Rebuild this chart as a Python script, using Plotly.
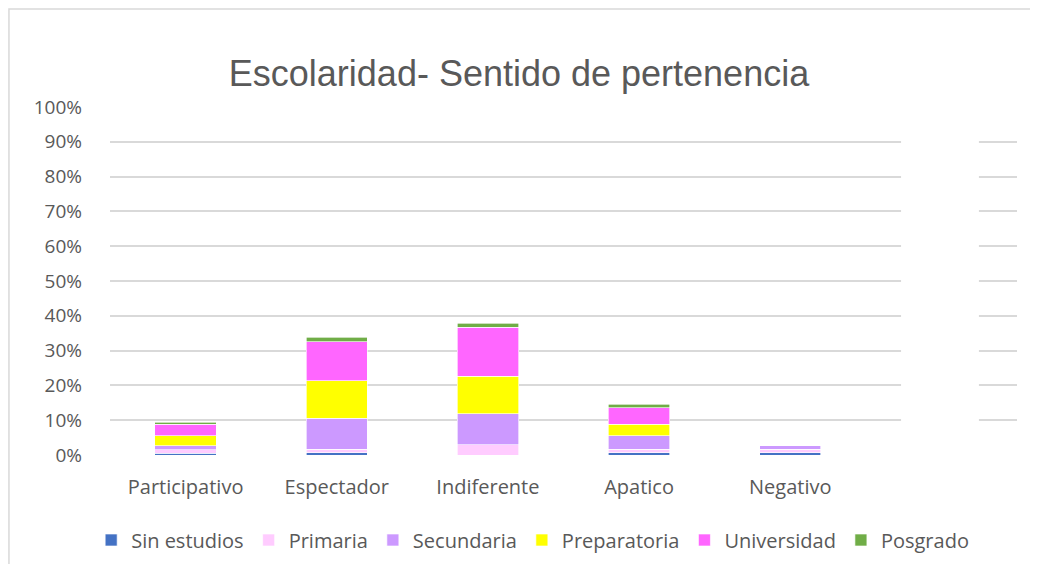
import plotly.graph_objects as go

categories = ["Participativo", "Espectador", "Indiferente", "Apatico", "Negativo"]
sin_estudios = [0.005, 0.006, 0.000, 0.006, 0.006]
primaria = [0.010, 0.010, 0.029, 0.010, 0.011]
secundaria = [0.012, 0.090, 0.089, 0.039, 0.011]
preparatoria = [0.028, 0.108, 0.109, 0.033, 0.0]
universidad = [0.033, 0.112, 0.140, 0.048, 0.0]
posgrado = [0.006, 0.012, 0.011, 0.010, 0.0]

series = [
    ("Sin estudios", sin_estudios, "#4472C4"),
    ("Primaria", primaria, "#FFCCFF"),
    ("Secundaria", secundaria, "#CC99FF"),
    ("Preparatoria", preparatoria, "#FFFF00"),
    ("Universidad", universidad, "#FF66FF"),
    ("Posgrado", posgrado, "#70AD47"),
]

fig = go.Figure()
for name, vals, col in series:
    fig.add_trace(go.Bar(
        name=name, x=categories, y=vals, width=0.405,
        marker=dict(color=col, line=dict(color="rgba(255,255,255,0.8)", width=0.8)),
    ))

grey = "#595959"
W, H = 1022, 556
fig.update_layout(
    barmode="stack",
    width=W, height=H,
    margin=dict(l=102, r=13, t=99, b=109, autoexpand=False),
    paper_bgcolor="white", plot_bgcolor="white",
    title=dict(text="Escolaridad- Sentido de pertenencia", x=0.5, xanchor="center",
               y=1 - 65 / H, yanchor="middle",
               font=dict(family="Liberation Sans", size=36, color=grey)),
    font=dict(family="Open Sans", color=grey),
    showlegend=True,
    legend=dict(orientation="h", x=0.466, xanchor="center", yref="container",
                y=(H - 532) / H, yanchor="middle",
                font=dict(family="Open Sans", size=20, color=grey),
                itemwidth=30, traceorder="normal"),
    xaxis=dict(range=[-0.5, 5.5], showgrid=False, showline=False, zeroline=False,
               automargin=False,
               tickfont=dict(size=20, color=grey), ticklabelstandoff=18),
    yaxis=dict(range=[0, 1], dtick=0.1, tickformat=".0%", showgrid=True,
               automargin=False,
               gridcolor="#D9D9D9", gridwidth=1.5, zeroline=False, showline=False,
               tickfont=dict(size=19, color=grey), ticklabelstandoff=27),
    shapes=[
        dict(type="rect", xref="x", yref="y", x0=4.733, x1=5.248, y0=-0.01, y1=0.95,
             fillcolor="white", line=dict(width=0), layer="between"),
        dict(type="rect", xref="paper", yref="paper", x0=-0.1114, x1=1.05, y0=-0.4, y1=1.2816,
             fillcolor="rgba(0,0,0,0)", line=dict(color="#D9D9D9", width=1.5), layer="below"),
    ],
)

fig.write_html("out.html")
